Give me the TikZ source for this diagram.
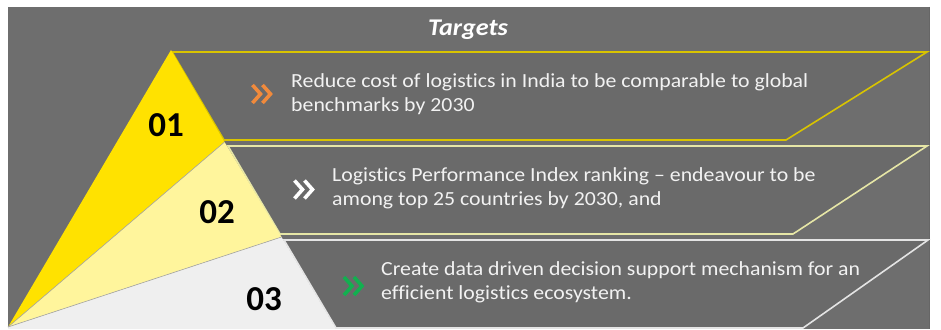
\documentclass[tikz,border=0pt]{standalone}
\usepackage{fontspec}
\setmainfont{Carlito}[Ligatures=NoCommon]
\newfontfamily\widefont{Carlito}[Ligatures=NoCommon, FakeStretch=1.09]
\definecolor{bgrey}{HTML}{6E6E6E}
\definecolor{bandgrey}{HTML}{6A6A6A}
\definecolor{seg1}{HTML}{FFE200}
\definecolor{seg2}{HTML}{FFF59C}
\definecolor{seg3}{HTML}{EFEFEF}
\definecolor{line1}{HTML}{D9C400}
\definecolor{line2}{HTML}{E6E6A6}
\definecolor{line3}{HTML}{E4E4E4}
\definecolor{chevorange}{HTML}{F08A3C}
\definecolor{chevgreen}{HTML}{12B050}
\definecolor{txt}{HTML}{F2F2F2}
\tikzset{
  band/.style={fill=bandgrey, line width=1.6pt, line join=miter},
  bodytext/.style={text=txt, font=\widefont\fontsize{20}{24}\selectfont, align=left, anchor=west, inner sep=0pt},
  numtext/.style={font=\fontsize{35}{35}\selectfont\bfseries, text=black, inner sep=0pt},
  chevs/.pic={\draw[line width=3.6pt, line join=miter] (-9,-9) -- (-1,0) -- (-9,9) (1,-9) -- (9,0) -- (1,9);},
}
\begin{document}
\begin{tikzpicture}[x=1pt,y=-1pt]
\useasboundingbox (0,0) rectangle (941,329);
\fill[white] (0,0) rectangle (941,329);
\fill[bgrey] (8,7) rectangle (929,329);
\draw[black!60, line width=1pt] (929.5,7) -- (929.5,329);
% bands
\draw[band, draw=line1] (172,52) -- (927,52) -- (786,140) -- (224,140) -- cycle;
\draw[band, draw=line2] (228,146) -- (927,146) -- (793,234) -- (280,234) -- cycle;
\draw[band, draw=line3] (284,240) -- (928,240) -- (803,328) -- (336,328) -- cycle;
% pyramid segments
\coordinate (bl) at (8,327);
\coordinate (apex) at (171,50);
\coordinate (p1) at (224.5,142);
\coordinate (p2) at (281.5,237);
\coordinate (br) at (336,329);
\fill[seg3] (bl) -- (p2) -- (br) -- (bl |- br) -- cycle;
\fill[seg2] (bl) -- (p1) -- (p2) -- cycle;
\fill[seg1] (bl) -- (apex) -- (p1) -- cycle;
\draw[black!35, line width=0.6pt] (bl) -- (p1);
\draw[black!35, line width=0.6pt] (bl) -- (p2);
% title
\node[text=white, font=\widefont\fontsize{24}{24}\selectfont\bfseries\itshape] (title) at (468,30) {Targets};
% numbers
\node[numtext] (n1) at (166,125) {01};
\node[numtext] (n2) at (217,212) {02};
\node[numtext] (n3) at (264,299) {03};
% chevrons
\pic[color=chevorange] (c1) at (261.5,94) {chevs};
\pic[color=white] (c2) at (303.5,189.5) {chevs};
\pic[color=chevgreen] (c3) at (353,286) {chevs};
% texts
\node[bodytext] (t1) at (291,94) {Reduce cost of logistics in India to be comparable to global\\benchmarks by 2030};
\node[bodytext] (t2) at (332,188) {Logistics Performance Index ranking – endeavour to be\\among top 25 countries by 2030, and};
\node[bodytext] (t3) at (381,282) {Create data driven decision support mechanism for an\\efficient logistics ecosystem.};
\end{tikzpicture}
\end{document}
